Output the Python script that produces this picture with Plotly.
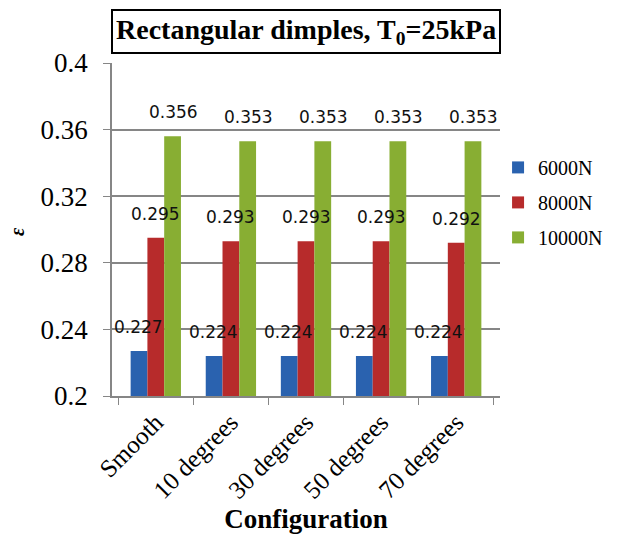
import plotly.graph_objects as go

# data
configurations = ['Smooth', '10 degrees', '30 degrees', '50 degrees', '70 degrees']
series_names = ['6000N', '8000N', '10000N']
eps_6000 = [0.227, 0.224, 0.224, 0.224, 0.224]
eps_8000 = [0.295, 0.293, 0.293, 0.293, 0.292]
eps_10000 = [0.356, 0.353, 0.353, 0.353, 0.353]
y_ticks = [0.2, 0.24, 0.28, 0.32, 0.36, 0.4]

colors = ['#2A62AF', '#B72B2B', '#88AE33']
serif = 'Liberation Serif'

fig = go.Figure()
all_series = [eps_6000, eps_8000, eps_10000]
for name, vals, col in zip(series_names, all_series, colors):
    # separate legend groups so tracegroupgap spreads the entries out
    fig.add_trace(go.Bar(x=configurations, y=vals, name=name, legendgroup=name,
                         marker=dict(color=col, line=dict(width=0))))

# value labels sit a bit above each bar, centred on it
bar_px = 17.3
for i, vals in enumerate(all_series):
    for cat, v in zip(configurations, vals):
        fig.add_annotation(x=cat, y=v, text=f'{v:.3f}', showarrow=False,
                           xshift=(i - 1) * bar_px, yshift=24,
                           font=dict(family='DejaVu Sans', size=17, color='#111111'))

# boxed title
fig.add_annotation(xref='paper', yref='paper', x=0.5, y=1.095,
                   text='<b>Rectangular dimples, T<sub>0</sub>=25kPa</b>',
                   showarrow=False, yanchor='middle',
                   font=dict(family=serif, size=28, color='black'),
                   bordercolor='black', borderwidth=2, borderpad=3, bgcolor='white')

# y axis title (epsilon)
fig.add_annotation(xref='paper', yref='paper', x=-0.245, y=0.495,
                   xanchor='center', yanchor='middle',
                   text='<b><i>ε</i></b>', showarrow=False, textangle=-90,
                   font=dict(family=serif, size=20, color='black'))

fig.update_layout(
    width=624, height=537,
    margin=dict(l=112, r=124, t=63, b=141),
    paper_bgcolor='white', plot_bgcolor='white',
    barmode='group', bargap=0.33, bargroupgap=0,
    showlegend=True,
    legend=dict(x=0.995, y=0.745, xanchor='left', yanchor='top',
                font=dict(family=serif, size=20, color='black'),
                itemwidth=30, tracegroupgap=6, bgcolor='rgba(0,0,0,0)'),
    xaxis=dict(
        tickangle=-45, tickfont=dict(family=serif, size=25, color='black'),
        showline=True, linecolor='#868686', linewidth=1.5,
        ticks='outside', ticklen=7, tickcolor='#868686', tickson='boundaries',
        automargin=False,
        title=dict(text='<b>Configuration</b>', font=dict(family=serif, size=27, color='black'),
                   standoff=5),
    ),
    yaxis=dict(
        range=[0.2, 0.4], tickvals=y_ticks, ticktext=[f'{t:g}' for t in y_ticks],
        tickfont=dict(family=serif, size=27, color='black'),
        ticklabelstandoff=10, automargin=False,
        showgrid=True, gridcolor='#868686', gridwidth=1.5,
        showline=True, linecolor='#868686', linewidth=1.5,
        ticks='outside', ticklen=7, tickcolor='#868686',
        zeroline=False,
    ),
)

# drop the default page margin so the figure fills the window
fig.write_html('out.html', config={'displayModeBar': False},
               post_script="document.body.style.margin='0';")
